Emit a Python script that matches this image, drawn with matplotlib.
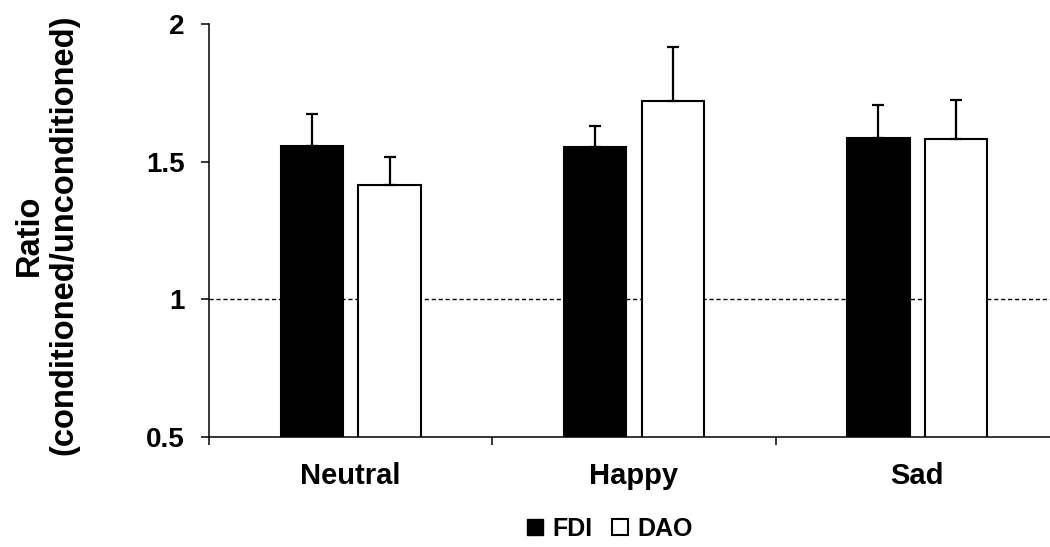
import matplotlib
matplotlib.use("Agg")
from matplotlib import pyplot as plt
from matplotlib.patches import Patch
import numpy as np

categories = ["Neutral", "Happy", "Sad"]
fdi = [1.558, 1.552, 1.587]
fdi_err = [0.114, 0.078, 0.118]
dao = [1.415, 1.720, 1.581]
dao_err = [0.103, 0.198, 0.143]
yticks = [0.5, 1, 1.5, 2]
yticklabels = ["0.5", "1", "1.5", "2"]

plt.rcParams["font.family"] = ["Liberation Sans", "DejaVu Sans"]
plt.rcParams["font.weight"] = "bold"

fig = plt.figure(figsize=(10.5, 5.47), dpi=100)
ax = fig.add_axes([209 / 1050, 1 - 437 / 547, 850 / 1050, 413 / 547])

x = np.arange(len(categories))
w = 0.22
off = 0.1375

ax.axhline(1, color="black", lw=1, ls=(0, (3, 2)), zorder=1)

ax.bar(x - off, fdi, w, color="black", edgecolor="black",
       linewidth=1.5, zorder=2, label="FDI")
ax.bar(x + off, dao, w, color="white", edgecolor="black",
       linewidth=1.5, zorder=2, label="DAO")

ax.errorbar(x - off, fdi, yerr=[np.zeros(3), fdi_err], fmt="none",
            ecolor="black", elinewidth=1.6, capsize=4.5, capthick=1.6, zorder=3)
ax.errorbar(x + off, dao, yerr=[np.zeros(3), dao_err], fmt="none",
            ecolor="black", elinewidth=1.6, capsize=4.5, capthick=1.6, zorder=3)

ax.set_ylim(0.5, 2)
ax.set_xlim(-0.5, 2.5)
ax.set_yticks(yticks)
ax.set_yticklabels(yticklabels, fontsize=20, fontweight="bold")
ax.set_xticks(x)
ax.set_xticklabels(categories, fontsize=21, fontweight="bold")
ax.set_xticks([-0.5, 0.5, 1.5, 2.5], minor=True)
ax.tick_params(axis="x", which="major", length=0, pad=18)
ax.tick_params(axis="x", which="minor", length=5.5, width=1.1, direction="out")
ax.tick_params(axis="y", length=5.5, width=1.1, direction="out", pad=12)

for s in ["top", "right"]:
    ax.spines[s].set_visible(False)
for s in ["left", "bottom"]:
    ax.spines[s].set_linewidth(1.1)

ax.set_ylabel("Ratio\n(conditioned/unconditioned)", fontsize=23.5,
              fontweight="bold", linespacing=1.15)
ax.yaxis.set_label_coords(-0.152, 0.489)

handles = [Patch(facecolor="black", edgecolor="black", label="FDI"),
           Patch(facecolor="white", edgecolor="black", linewidth=1.5, label="DAO")]
fig.legend(handles=handles, loc="center", bbox_to_anchor=(610 / 1050, 1 - 529 / 547),
           ncol=2, frameon=False, handlelength=0.64, handleheight=0.64,
           handletextpad=0.36, columnspacing=0.8, prop={"weight": "bold", "size": 18})

fig.savefig("out.png", dpi=100)
